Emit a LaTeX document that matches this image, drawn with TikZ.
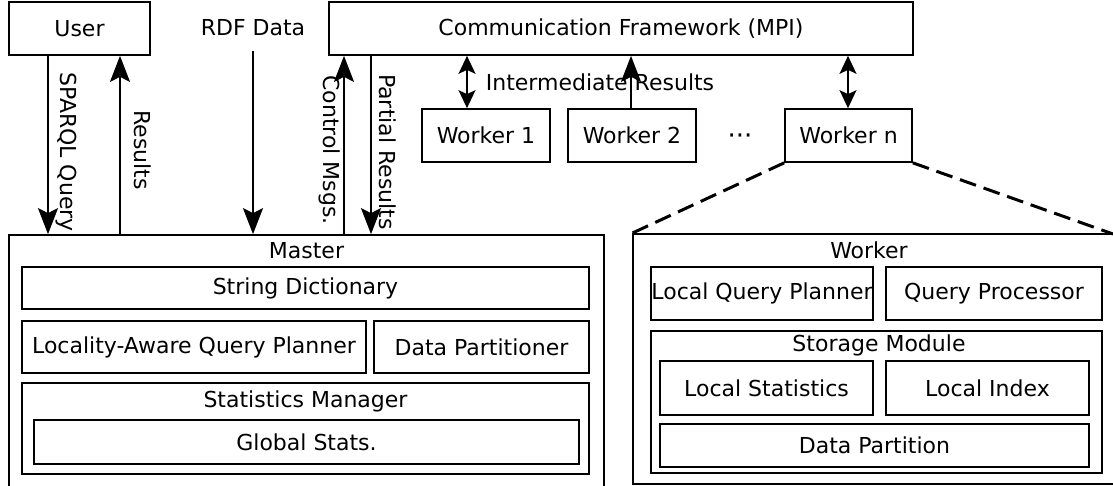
\documentclass[tikz,border=0pt]{standalone}
\usepackage{fontspec}
\setmainfont{DejaVu Sans}
\usetikzlibrary{arrows.meta}

\begin{document}
\begin{tikzpicture}[x=0.5pt,y=-0.5pt,
  font=\fontsize{11}{13}\selectfont,
  box/.style={draw,line width=0.85pt,inner sep=0pt,minimum width=#1},
  box/.default=10pt,
  lbl/.style={inner sep=0pt},
  vlbl/.style={inner sep=0pt,rotate=-90},
  arr/.style={line width=0.85pt,-{Stealth[length=13pt,width=10pt,inset=2.5pt]}},
  darr/.style={line width=0.85pt,{Stealth[length=9pt,width=8.5pt,inset=2pt]}-{Stealth[length=9pt,width=8.5pt,inset=2pt]}},
  zoomline/.style={line width=1.5pt,dash pattern=on 8.5pt off 4pt}]
\useasboundingbox (0,0) rectangle (1113,486);
\clip (0,0) rectangle (1113,486);

% top row
\node[box=70.5pt,minimum height=26.5pt] (user) at (79.5,28.5) {User};
\node[lbl] (rdf) at (253,28) {RDF Data};
\node[box=292pt,minimum height=26.5pt] (comm) at (621,28.5) {Communication Framework (MPI)};

% workers
\node[box=64pt,minimum height=26.5pt] (w1) at (486,135.5) {Worker 1};
\node[box=64pt,minimum height=26.5pt] (w2) at (632,135.5) {Worker 2};
\node[lbl,anchor=base,font=\fontsize{13}{15}\selectfont] (dots) at (740,145) {···};
\node[box=63.5pt,minimum height=26.5pt] (wn) at (848.5,135.5) {Worker n};

% master
\node[box=297.5pt,minimum height=132.5pt] (master) at (306.5,367.5) {};
\node[lbl] (masterlbl) at (306.5,251) {Master};
\node[box=283.5pt,minimum height=21pt] (sd) at (305.5,288) {String Dictionary};
\node[box=172pt,minimum height=26pt] (lqp) at (194,347) {Locality-Aware Query Planner};
\node[box=107.5pt,minimum height=26pt] (dp) at (481.5,347) {Data Partitioner};
\node[box=283.5pt,minimum height=45.5pt] (sm) at (305.5,428.5) {};
\node[lbl] (smlbl) at (305.5,401) {Statistics Manager};
\node[box=272.5pt,minimum height=22pt] (gs) at (306.5,442) {Global Stats.};

% worker detail
\node[box=241.5pt,minimum height=125pt] (worker) at (874.5,359) {};
\node[lbl] (workerlbl) at (869,250) {Worker};
\node[box=111pt,minimum height=26.5pt] (lqpw) at (762,293.5) {Local Query Planner};
\node[box=108pt,minimum height=26.5pt] (qp) at (994,293.5) {Query Processor};
\node[box=225.5pt,minimum height=71pt] (stm) at (876.5,402) {};
\node[lbl] (stmlbl) at (879,345) {Storage Module};
\node[box=106.5pt,minimum height=27pt] (ls) at (766.5,388) {Local Statistics};
\node[box=101.5pt,minimum height=27pt] (li) at (987.5,388) {Local Index};
\node[box=214.5pt,minimum height=21.5pt] (dpart) at (874.5,445.5) {Data Partition};

% user <-> master
\draw[arr] (user.south -| 48,0) -- (master.north -| 48,0);
\node[vlbl] (sparqllbl) at (66,152) {SPARQL Query};
\draw[arr] (master.north -| 120,0) -- (user.south -| 120,0);
\node[vlbl] (resultslbl) at (143,150) {Results};

% data loading
\draw[arr] ([yshift=-7pt]rdf.south) -- (rdf.south |- master.north);

% master <-> communication framework
\draw[arr] (master.north -| 344,0) -- (comm.south -| 344,0);
\node[vlbl] (ctrllbl) at (330,150) {Control Msgs.};
\draw[arr] (comm.south -| 371,0) -- (master.north -| 371,0);
\node[vlbl] (partlbl) at (388,152) {Partial Results};

% workers <-> communication framework
\draw[darr] (comm.south -| 467,0) -- (w1.north -| 467,0);
\draw[arr] (w2.north -| 631,0) -- (comm.south -| 631,0);
\draw[darr] (comm.south -| 848,0) -- (wn.north -| 848,0);
\node[lbl] (interlbl) at (600,82) {Intermediate Results};

% zoom into worker n
\draw[zoomline] (wn.south west) -- (worker.north west);
\draw[zoomline] (wn.south east) -- (1113,234);
\end{tikzpicture}
\end{document}
